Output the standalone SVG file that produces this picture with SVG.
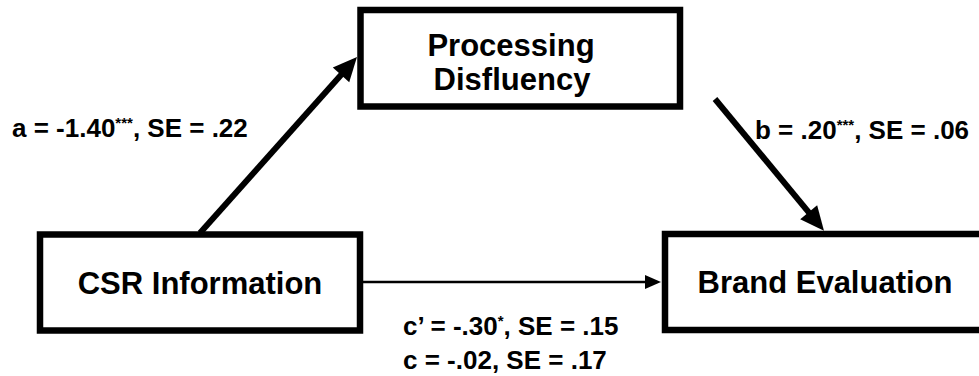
<svg xmlns="http://www.w3.org/2000/svg" width="979" height="376" viewBox="0 0 979 376">
  <style>
    .box { fill: #ffffff; stroke: #000000; stroke-width: 6.5; }
    .node-text { font-family: "Liberation Sans", Arial, sans-serif; font-weight: bold; font-size: 31px; fill: #000000; text-anchor: middle; }
    .label { font-family: "Liberation Sans", Arial, sans-serif; font-weight: bold; font-size: 26px; fill: #000000; }
    .sup { font-size: 15px; }
    .thick { stroke: #000000; stroke-width: 6; fill: none; }
    .thin { stroke: #000000; stroke-width: 2.5; fill: none; }
  </style>
  <defs>
    <marker id="headBig" markerUnits="userSpaceOnUse" markerWidth="26" markerHeight="22" refX="6" refY="11" orient="auto" overflow="visible">
      <path d="M0,0 L24,11 L0,22 z" fill="#000000"/>
    </marker>
    <marker id="headSmall" markerUnits="userSpaceOnUse" markerWidth="18" markerHeight="14" refX="4" refY="7" orient="auto" overflow="visible">
      <path d="M0,0 L16,7 L0,14 z" fill="#000000"/>
    </marker>
  </defs>

  <g id="connectors">
    <line id="edge-a" class="thick" x1="200" y1="233" x2="345" y2="70.4" marker-end="url(#headBig)"/>
    <line id="edge-b" class="thick" x1="715" y1="99" x2="812.5" y2="216.8" marker-end="url(#headBig)"/>
    <line id="edge-c" class="thin" x1="363" y1="282" x2="649" y2="282" marker-end="url(#headSmall)"/>
  </g>

  <g id="node-processing">
    <rect class="box" x="360.5" y="10" width="319.5" height="96.5"/>
    <text class="node-text" x="511" y="56">Processing</text>
    <text class="node-text" x="512" y="90">Disfluency</text>
  </g>

  <g id="node-csr">
    <rect class="box" x="40" y="234.5" width="320" height="96"/>
    <text class="node-text" x="200" y="294">CSR Information</text>
  </g>

  <g id="node-brand">
    <rect class="box" x="665" y="234" width="330" height="96"/>
    <text class="node-text" x="825" y="293">Brand Evaluation</text>
  </g>

  <g id="labels">
    <text class="label" x="12" y="137">a = -1.40<tspan class="sup" dy="-9">***</tspan><tspan dy="9">, SE = .22</tspan></text>
    <text class="label" x="755" y="139">b = .20<tspan class="sup" dy="-9">***</tspan><tspan dy="9">, SE = .06</tspan></text>
    <text class="label" x="403" y="335">c’ = -.30<tspan class="sup" dy="-9">*</tspan><tspan dy="9">, SE = .15</tspan></text>
    <text class="label" x="403" y="369">c = -.02, SE = .17</text>
  </g>
</svg>
